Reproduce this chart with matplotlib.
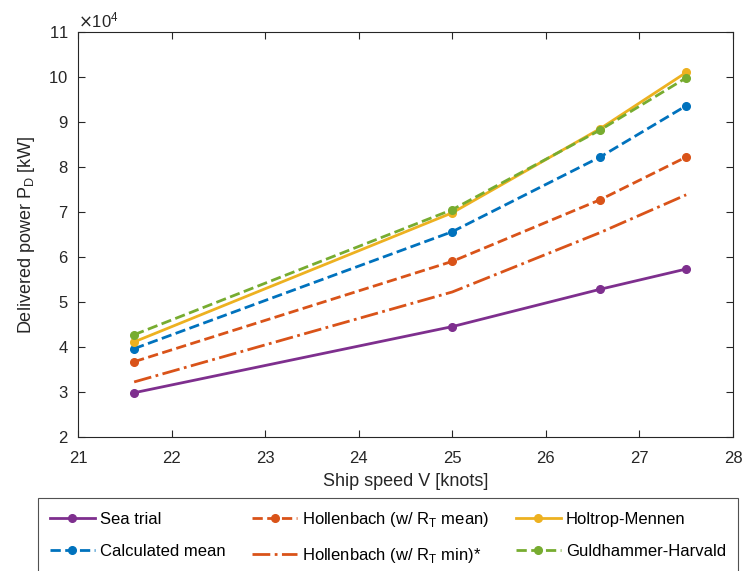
import matplotlib.pyplot as plt

plt.rcParams["font.family"] = ["Liberation Sans", "DejaVu Sans"]

speed = [21.6, 25.0, 26.58, 27.5]

sea_trial = [2.98e4, 4.45e4, 5.28e4, 5.73e4]
calc_mean = [3.96e4, 6.56e4, 8.22e4, 9.36e4]
hollen_mean = [3.67e4, 5.90e4, 7.27e4, 8.22e4]
hollen_min = [3.22e4, 5.22e4, 6.54e4, 7.38e4]
holtrop = [4.11e4, 6.98e4, 8.85e4, 10.1e4]
guldhammer = [4.27e4, 7.05e4, 8.82e4, 9.98e4]

purple = (0.494, 0.184, 0.556)
blue = (0.0, 0.447, 0.741)
orange = (0.85, 0.325, 0.098)
yellow = (0.929, 0.694, 0.125)
green = (0.466, 0.674, 0.188)

fig = plt.figure(figsize=(7.43, 5.71), dpi=100)
ax = fig.add_axes([0.105, 0.235, 0.8815, 0.709])

lw = 2
ms = 5.5
ax.plot(speed, sea_trial, "-", color=purple, marker="o", lw=lw, ms=ms, label="Sea trial")
ax.plot(speed, calc_mean, "--", color=blue, marker="o", lw=lw, ms=ms, label="Calculated mean")
ax.plot(speed, hollen_mean, "--", color=orange, marker="o", lw=lw, ms=ms, label="Hollenbach (w/ R$_\\mathregular{T}$ mean)")
ax.plot(speed, hollen_min, "-.", color=orange, lw=lw, label="Hollenbach (w/ R$_\\mathregular{T}$ min)*")
ax.plot(speed, holtrop, "-", color=yellow, marker="o", lw=lw, ms=ms, label="Holtrop-Mennen")
ax.plot(speed, guldhammer, "--", color=green, marker="o", lw=lw, ms=ms, label="Guldhammer-Harvald")

ax.set_xlim(21, 28)
ax.set_ylim(2e4, 11e4)
ax.set_xticks(range(21, 29))
ax.set_yticks([i * 1e4 for i in range(2, 12)])
ax.ticklabel_format(axis="y", style="sci", scilimits=(4, 4), useMathText=True)
ax.yaxis.get_offset_text().set_fontsize(12)
ax.yaxis.get_offset_text().set_color("#262626")

ax.tick_params(direction="in", top=True, right=True, labelsize=12, colors="#262626", length=5)
ax.tick_params(axis="x", pad=10)
ax.tick_params(axis="y", pad=7)
for s in ax.spines.values():
    s.set_color("#262626")
    s.set_linewidth(0.8)

ax.set_xlabel("Ship speed V [knots]", fontsize=13, color="#262626", labelpad=5)
ax.set_ylabel("Delivered power P$_\\mathregular{D}$ [kW]", fontsize=13, color="#262626", labelpad=8)

leg = fig.legend(
    loc="upper center",
    bbox_to_anchor=(0.522, 0.142),
    ncol=3,
    fontsize=12,
    frameon=True,
    fancybox=False,
    edgecolor="#262626",
    handlelength=2.7,
    columnspacing=1.6,
    handletextpad=0.3,
    labelspacing=1.0,
    borderpad=0.7,
)
leg.get_frame().set_linewidth(0.8)

fig.savefig("out.png", dpi=100)
